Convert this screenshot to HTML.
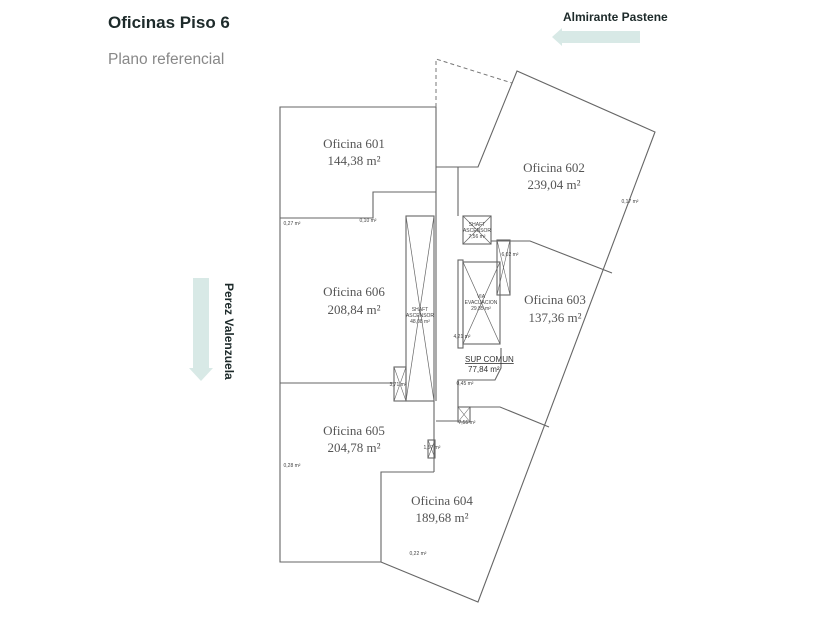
<!DOCTYPE html>
<html><head><meta charset="utf-8"><style>
html,body{margin:0;padding:0;background:#fff;}
svg{display:block;}
.s{font-family:"Liberation Sans",sans-serif;}
.r{font-family:"Liberation Serif",serif;font-size:13px;fill:#555;text-anchor:middle;}
.t{font-family:"Liberation Sans",sans-serif;font-size:5px;fill:#444;text-anchor:middle;}
</style></head><body>
<svg width="840" height="630" viewBox="0 0 840 630" xmlns="http://www.w3.org/2000/svg">
<text x="108" y="28" class="s" font-size="17" font-weight="bold" fill="#1d2a2a">Oficinas Piso 6</text>
<text x="108" y="64" class="s" font-size="15.5" fill="#888">Plano referencial</text>
<text x="563" y="21" class="s" font-size="12" font-weight="bold" fill="#1d2a2a">Almirante Pastene</text>
<polygon points="552,37 562,28 562,31 640,31 640,43 562,43 562,46" fill="#d8e9e6"/>
<polygon points="193,278 209,278 209,368 213,368 201,381 189,368 193,368" fill="#d8e9e6"/>
<text transform="translate(225,283) rotate(90)" class="s" font-size="12" font-weight="bold" fill="#1d2a2a">Perez Valenzuela</text>
<g fill="none" stroke="#666" stroke-width="1.1">
<polyline points="436,107 280,107 280,562 381,562 478,602 655,132 517,71 478,167 436,167"/>
<line x1="436" y1="107" x2="436" y2="401"/>
<line x1="434" y1="401" x2="434" y2="472"/>
<polyline points="381,562 381,472 434,472"/>
<polyline points="280,218 373,218 373,192 436,192"/>
<line x1="280" y1="383" x2="394" y2="383"/>
<rect x="406" y="216" width="28" height="185"/>
<line x1="406" y1="216" x2="434" y2="401" stroke-width="0.7"/>
<line x1="434" y1="216" x2="406" y2="401" stroke-width="0.7"/>
<line x1="458" y1="167" x2="458" y2="216"/>
<rect x="463" y="216" width="28" height="28"/>
<line x1="463" y1="216" x2="491" y2="244" stroke-width="0.7"/>
<line x1="491" y1="216" x2="463" y2="244" stroke-width="0.7"/>
<polyline points="491,241 530,241 612,273"/>
<rect x="497" y="240" width="13" height="55"/>
<line x1="497" y1="240" x2="510" y2="295" stroke-width="0.6"/>
<line x1="510" y1="240" x2="497" y2="295" stroke-width="0.6"/>
<rect x="458" y="260" width="5" height="88"/>
<rect x="463" y="262" width="37" height="82"/>
<line x1="463" y1="262" x2="500" y2="344" stroke-width="0.7"/>
<line x1="500" y1="262" x2="463" y2="344" stroke-width="0.7"/>
<polyline points="501,348 501,368 495,380 458,380 458,407 500,407 549,427"/>
<line x1="436" y1="421" x2="458" y2="421"/>
<rect x="458" y="407" width="12" height="15"/>
<line x1="458" y1="407" x2="470" y2="422" stroke-width="0.6"/>
<line x1="470" y1="407" x2="458" y2="422" stroke-width="0.6"/>
<rect x="394" y="367" width="12" height="34"/>
<line x1="394" y1="367" x2="406" y2="401" stroke-width="0.6"/>
<line x1="406" y1="367" x2="394" y2="401" stroke-width="0.6"/>
<rect x="428" y="440" width="7" height="18"/>
<line x1="428" y1="440" x2="435" y2="458" stroke-width="0.6"/>
<line x1="435" y1="440" x2="428" y2="458" stroke-width="0.6"/>
</g>
<polyline points="436,107 436,59 512,83" fill="none" stroke="#777" stroke-width="1" stroke-dasharray="4,3"/>
<text x="354" y="148" class="r">Oficina 601</text><text x="354" y="165" class="r">144,38  m²</text>
<text x="554" y="172" class="r">Oficina 602</text><text x="554" y="189" class="r">239,04  m²</text>
<text x="354" y="296" class="r">Oficina 606</text><text x="354" y="314" class="r">208,84  m²</text>
<text x="555" y="304" class="r">Oficina 603</text><text x="555" y="322" class="r">137,36  m²</text>
<text x="354" y="435" class="r">Oficina 605</text><text x="354" y="452" class="r">204,78  m²</text>
<text x="442" y="505" class="r">Oficina 604</text><text x="442" y="522" class="r">189,68  m²</text>
<text x="420" y="311" class="t">SHAFT</text><text x="420" y="317" class="t">ASCENSOR</text><text x="420" y="323" class="t">48,08 m²</text>
<text x="477" y="226" class="t">SHAFT</text><text x="477" y="232" class="t">ASCENSOR</text><text x="477" y="238" class="t">7,56 m²</text>
<text x="481" y="298" class="t">VIA</text><text x="481" y="304" class="t">EVACUACION</text><text x="481" y="310" class="t">29,85 m²</text>
<text x="465" y="362" class="s" font-size="8" fill="#333" text-decoration="underline">SUP COMUN</text>
<text x="468" y="372" class="s" font-size="8" fill="#333">77,84 m²</text>
<text x="292" y="225" class="t">0,27 m²</text>
<text x="368" y="222" class="t">0,10 m²</text>
<text x="630" y="203" class="t">0,17 m²</text>
<text x="510" y="256" class="t">6,02 m²</text>
<text x="462" y="338" class="t">4,21 m²</text>
<text x="398" y="386" class="t">3,71 m²</text>
<text x="465" y="385" class="t">0,45 m²</text>
<text x="467" y="424" class="t">7,55 m²</text>
<text x="432" y="449" class="t">1,57 m²</text>
<text x="292" y="467" class="t">0,28 m²</text>
<text x="418" y="555" class="t">0,22 m²</text>
</svg>
</body></html>
